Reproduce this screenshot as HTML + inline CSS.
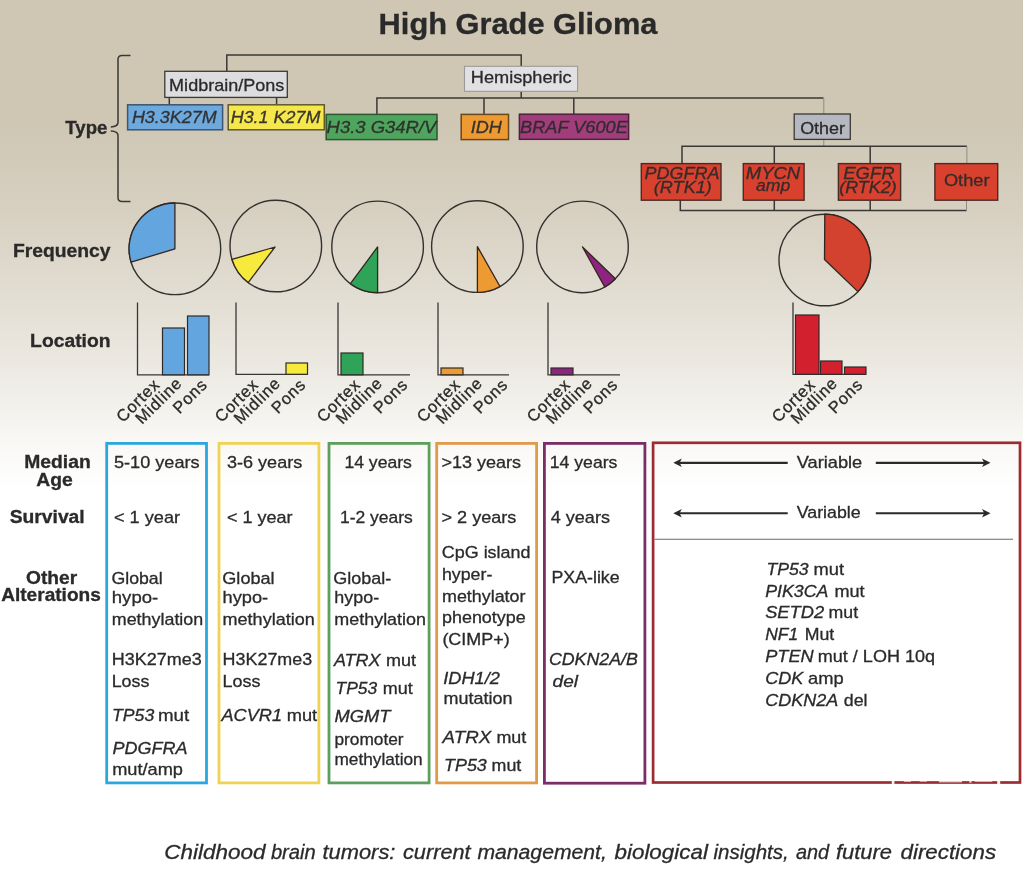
<!DOCTYPE html>
<html lang="en">
<head>
<meta charset="utf-8">
<title>High Grade Glioma</title>
<style>
html,body{margin:0;padding:0;background:#fff;}
body{width:1023px;height:873px;overflow:hidden;}
svg{display:block;}
text{font-family:"Liberation Sans",Arial,Helvetica,sans-serif;fill:#2b2a2a;stroke:#2b2a2a;stroke-width:0.3px;}
.ln{stroke:#3a3836;stroke-width:1.5;fill:none;}
.lt{stroke:#8f8c86;stroke-width:1;fill:none;}
.ax{stroke:#3a3836;stroke-width:1.3;fill:none;}
.pie{stroke:#33312f;stroke-width:1.4;fill:none;}
.rot{font-size:16.5px;letter-spacing:0.8px;}
</style>
</head>
<body>
<svg width="1023" height="873" viewBox="0 0 1023 873">
<defs>
<linearGradient id="bg" x1="0" y1="0" x2="0" y2="1">
<stop offset="0" stop-color="#cfc7b4"/>
<stop offset="0.14" stop-color="#cfc7b4"/>
<stop offset="0.24" stop-color="#d7d0c1"/>
<stop offset="0.32" stop-color="#e0dbcf"/>
<stop offset="0.42" stop-color="#ece9e2"/>
<stop offset="0.50" stop-color="#f8f7f4"/>
<stop offset="0.56" stop-color="#ffffff"/>
<stop offset="1" stop-color="#ffffff"/>
</linearGradient>
<linearGradient id="bx" x1="0" y1="0" x2="0" y2="1">
<stop offset="0" stop-color="#f3f2ef"/>
<stop offset="0.2" stop-color="#ffffff"/>
<stop offset="1" stop-color="#ffffff"/>
</linearGradient>
</defs>
<rect x="0" y="0" width="1023" height="873" fill="url(#bg)"/>

<text x="378.6" y="34.4" font-size="29.5" textLength="278.8" lengthAdjust="spacingAndGlyphs" font-weight="bold">High Grade Glioma</text>
<path class="ln" d="M130.5 55.5 H122 Q118 55.5 118 59.5 V122.3 Q118 126.7 110.8 126.9 M110.8 131 Q118 131.2 118 135.6 V197.5 Q118 201.5 122 201.5 H130.5" stroke-width="1.4"/>
<path class="ln" d="M226.8 71 V55 H521.2 V66.3 M521.2 91.3 V98 M376.9 114.4 V98 H823.5 M484 98 V114.4 M573.8 98 V114.4 M169.3 97.4 V104.8 M276.6 97.4 V104.8"/>
<path class="lt" d="M823.8 98 V114 M823.8 139.4 V146"/>
<path class="ln" d="M682 163.6 V146.2 H966.9 M774.3 146.2 V163.6 M870.2 146.2 V163.6 M680.3 200.2 V210.4 H966.5 M774.3 200.2 V210.4 M870.2 200.2 V210.4"/>
<path class="lt" d="M966.9 146.2 V163.6 M966.5 200.2 V210.4" stroke="#5a5855"/>
<rect x="164.8" y="71.3" width="122.5" height="26.1" fill="#dddde0" stroke="#3a3836" stroke-width="1.3"/>
<text x="169.1" y="90.8" font-size="17" textLength="115.3" lengthAdjust="spacingAndGlyphs">Midbrain/Pons</text>
<rect x="464.5" y="66.3" width="113.1" height="25.0" fill="#e1e1e4" stroke="#9c9a98" stroke-width="1.1"/>
<text x="470.8" y="83.2" font-size="17" textLength="100.9" lengthAdjust="spacingAndGlyphs">Hemispheric</text>
<rect x="794.2" y="114.0" width="56.1" height="25.4" fill="#b6b8c1" stroke="#3a3836" stroke-width="1.3"/>
<text x="800.2" y="133.5" font-size="17" textLength="44.8" lengthAdjust="spacingAndGlyphs">Other</text>
<rect x="127.6" y="104.8" width="95.0" height="25.0" fill="#6ea9de" stroke="#3d556e" stroke-width="1.5"/>
<text x="131.9" y="122.6" font-size="17" textLength="84.8" lengthAdjust="spacingAndGlyphs" font-style="italic" opacity="0.93">H3.3K27M</text>
<rect x="228.2" y="104.8" width="96.1" height="25.0" fill="#f6e84c" stroke="#5e5a2e" stroke-width="1.5"/>
<text x="230.7" y="122.6" font-size="17" textLength="89.7" lengthAdjust="spacingAndGlyphs" font-style="italic" opacity="0.93">H3.1 K27M</text>
<rect x="326.2" y="114.4" width="110.8" height="25.2" fill="#4fa55e" stroke="#2a5632" stroke-width="1.5"/>
<text x="326.6" y="133.3" font-size="17" textLength="109.6" lengthAdjust="spacingAndGlyphs" font-style="italic" opacity="0.93">H3.3 G34R/V</text>
<rect x="461.2" y="114.4" width="47.3" height="25.2" fill="#ee9a33" stroke="#664820" stroke-width="1.5"/>
<text x="470.7" y="133.3" font-size="17" textLength="31.2" lengthAdjust="spacingAndGlyphs" font-style="italic" opacity="0.93">IDH</text>
<rect x="519.4" y="114.2" width="109.2" height="25.1" fill="#a23d7c" stroke="#4f1f3e" stroke-width="1.5"/>
<text x="520.0" y="133.4" font-size="17" textLength="107.8" lengthAdjust="spacingAndGlyphs" font-style="italic" opacity="0.93">BRAF V600E</text>
<rect x="641.3" y="163.6" width="79.7" height="36.6" fill="#d8412e" stroke="#4a2a25" stroke-width="1.4"/>
<rect x="743.3" y="163.6" width="60.8" height="36.6" fill="#d8412e" stroke="#4a2a25" stroke-width="1.4"/>
<rect x="838.4" y="163.6" width="62.2" height="36.6" fill="#d8412e" stroke="#4a2a25" stroke-width="1.4"/>
<rect x="934.9" y="163.6" width="62.8" height="36.6" fill="#d8412e" stroke="#4a2a25" stroke-width="1.4"/>
<text x="644.6" y="179.0" font-size="16" textLength="74.9" lengthAdjust="spacingAndGlyphs" font-style="italic" opacity="0.93">PDGFRA</text>
<text x="653.8" y="192.8" font-size="16" textLength="58.1" lengthAdjust="spacingAndGlyphs" font-style="italic" opacity="0.93">(RTK1)</text>
<text x="745.8" y="179.0" font-size="16" textLength="54.4" lengthAdjust="spacingAndGlyphs" font-style="italic" opacity="0.93">MYCN</text>
<text x="756.1" y="191.4" font-size="16" textLength="34.2" lengthAdjust="spacingAndGlyphs" font-style="italic" opacity="0.93">amp</text>
<text x="843.3" y="178.6" font-size="16" textLength="51.3" lengthAdjust="spacingAndGlyphs" font-style="italic" opacity="0.93">EGFR</text>
<text x="839.2" y="193.4" font-size="16" textLength="57.5" lengthAdjust="spacingAndGlyphs" font-style="italic" opacity="0.93">(RTK2)</text>
<text x="943.9" y="185.8" font-size="16.5" textLength="45.6" lengthAdjust="spacingAndGlyphs" opacity="0.93">Other</text>
<text x="65.3" y="134.2" font-size="17.5" textLength="42.1" lengthAdjust="spacingAndGlyphs" font-weight="bold">Type</text>
<text x="12.9" y="256.9" font-size="17.5" textLength="97.6" lengthAdjust="spacingAndGlyphs" font-weight="bold">Frequency</text>
<text x="30.1" y="347.1" font-size="17.5" textLength="80.4" lengthAdjust="spacingAndGlyphs" font-weight="bold">Location</text>
<text x="24.2" y="467.5" font-size="17.5" textLength="66.5" lengthAdjust="spacingAndGlyphs" font-weight="bold">Median</text>
<text x="36.2" y="485.5" font-size="17.5" textLength="36.5" lengthAdjust="spacingAndGlyphs" font-weight="bold">Age</text>
<text x="9.7" y="523.0" font-size="17.5" textLength="75.0" lengthAdjust="spacingAndGlyphs" font-weight="bold">Survival</text>
<text x="26.1" y="583.8" font-size="17.5" textLength="51.1" lengthAdjust="spacingAndGlyphs" font-weight="bold">Other</text>
<text x="1.2" y="601.2" font-size="17.5" textLength="99.6" lengthAdjust="spacingAndGlyphs" font-weight="bold">Alterations</text>
<circle class="pie" cx="174.9" cy="248.8" r="45.8"/>
<path d="M174.9 248.8 L131.1 262.2 A45.8 45.8 0 0 1 174.9 203.0 Z" fill="#62a5df" stroke="#33261f" stroke-width="1.3" stroke-linejoin="round"/>
<circle class="pie" cx="275.8" cy="246.0" r="45.8"/>
<path d="M275.0 247.0 L248.2 282.6 A45.8 45.8 0 0 1 232.0 259.4 Z" fill="#f8ea3c" stroke="#33261f" stroke-width="1.3" stroke-linejoin="round"/>
<circle class="pie" cx="377.6" cy="246.9" r="45.8"/>
<path d="M377.6 246.9 L377.6 292.7 A45.8 45.8 0 0 1 350.4 283.7 Z" fill="#2fa458" stroke="#33261f" stroke-width="1.3" stroke-linejoin="round"/>
<circle class="pie" cx="477.4" cy="246.6" r="45.8"/>
<path d="M477.4 246.6 L500.0 286.5 A45.8 45.8 0 0 1 477.4 292.4 Z" fill="#ee9a33" stroke="#33261f" stroke-width="1.3" stroke-linejoin="round"/>
<circle class="pie" cx="582.5" cy="246.9" r="45.8"/>
<path d="M582.5 246.9 L615.4 278.7 A45.8 45.8 0 0 1 604.7 287.0 Z" fill="#8e2480" stroke="#33261f" stroke-width="1.3" stroke-linejoin="round"/>
<circle class="pie" cx="824.8" cy="260.0" r="45.8"/>
<path d="M824.5 259.5 L824.8 214.2 A45.8 45.8 0 0 1 857.9 291.6 Z" fill="#d3412f" stroke="#33261f" stroke-width="1.3" stroke-linejoin="round"/>
<path class="ax" d="M137.5 302.5 V374.8 H209.0"/>
<rect x="162.5" y="328.0" width="22.0" height="46.8" fill="#62a5df" stroke="#2e2c2a" stroke-width="1.2"/>
<rect x="187.5" y="316.0" width="21.5" height="58.8" fill="#62a5df" stroke="#2e2c2a" stroke-width="1.2"/>
<text class="rot" text-anchor="end" transform="translate(160.8 385.6) rotate(-45)">Cortex</text>
<text class="rot" text-anchor="end" transform="translate(183.0 384.2) rotate(-45)">Midline</text>
<text class="rot" text-anchor="end" transform="translate(208.3 385.6) rotate(-45)">Pons</text>
<path class="ax" d="M236.0 302.5 V374.3 H307.5"/>
<rect x="286.0" y="363.0" width="21.5" height="11.3" fill="#f8ea3c" stroke="#2e2c2a" stroke-width="1.2"/>
<text class="rot" text-anchor="end" transform="translate(259.3 385.6) rotate(-45)">Cortex</text>
<text class="rot" text-anchor="end" transform="translate(281.5 384.2) rotate(-45)">Midline</text>
<text class="rot" text-anchor="end" transform="translate(306.8 385.6) rotate(-45)">Pons</text>
<path class="ax" d="M338.0 302.5 V374.8 H410.0"/>
<rect x="341.0" y="353.0" width="22.0" height="21.8" fill="#2fa458" stroke="#2e2c2a" stroke-width="1.2"/>
<text class="rot" text-anchor="end" transform="translate(361.3 385.6) rotate(-45)">Cortex</text>
<text class="rot" text-anchor="end" transform="translate(383.5 384.2) rotate(-45)">Midline</text>
<text class="rot" text-anchor="end" transform="translate(408.8 385.6) rotate(-45)">Pons</text>
<path class="ax" d="M438.0 302.5 V374.8 H509.0"/>
<rect x="441.0" y="368.0" width="22.0" height="6.8" fill="#ee9a33" stroke="#2e2c2a" stroke-width="1.2"/>
<text class="rot" text-anchor="end" transform="translate(461.3 385.6) rotate(-45)">Cortex</text>
<text class="rot" text-anchor="end" transform="translate(483.5 384.2) rotate(-45)">Midline</text>
<text class="rot" text-anchor="end" transform="translate(508.8 385.6) rotate(-45)">Pons</text>
<path class="ax" d="M548.0 302.5 V374.8 H620.0"/>
<rect x="551.0" y="368.0" width="22.0" height="6.8" fill="#8e2480" stroke="#2e2c2a" stroke-width="1.2"/>
<text class="rot" text-anchor="end" transform="translate(571.3 385.6) rotate(-45)">Cortex</text>
<text class="rot" text-anchor="end" transform="translate(593.5 384.2) rotate(-45)">Midline</text>
<text class="rot" text-anchor="end" transform="translate(618.8 385.6) rotate(-45)">Pons</text>
<path class="ax" d="M793.0 302.5 V374.3 H866.0"/>
<rect x="795.5" y="315.0" width="23.5" height="59.3" fill="#d2202f" stroke="#2e2c2a" stroke-width="1.2"/>
<rect x="820.5" y="361.0" width="21.5" height="13.3" fill="#d2202f" stroke="#2e2c2a" stroke-width="1.2"/>
<rect x="844.5" y="367.0" width="21.5" height="7.3" fill="#d2202f" stroke="#2e2c2a" stroke-width="1.2"/>
<text class="rot" text-anchor="end" transform="translate(816.3 385.6) rotate(-45)">Cortex</text>
<text class="rot" text-anchor="end" transform="translate(838.5 384.2) rotate(-45)">Midline</text>
<text class="rot" text-anchor="end" transform="translate(863.8 385.6) rotate(-45)">Pons</text>
<rect x="106.7" y="443.4" width="99.8" height="339.5" fill="none" stroke="#2aa7df" stroke-width="2.8"/>
<rect x="219.0" y="443.4" width="99.9" height="339.5" fill="none" stroke="#efd252" stroke-width="2.8"/>
<rect x="329.0" y="443.4" width="100.1" height="339.5" fill="none" stroke="#5d9f5c" stroke-width="2.8"/>
<rect x="436.7" y="443.4" width="99.9" height="339.5" fill="none" stroke="#e09a48" stroke-width="2.8"/>
<rect x="544.4" y="443.4" width="100.5" height="339.8" fill="none" stroke="#7a2e65" stroke-width="2.8"/>
<rect x="653.1" y="442.8" width="366.9" height="339.7" fill="none" stroke="#9c2c31" stroke-width="2.7"/>
<text x="114.0" y="467.5" font-size="17" textLength="85.6" lengthAdjust="spacingAndGlyphs">5-10 years</text>
<text x="114.0" y="523.2" font-size="17" textLength="66.0" lengthAdjust="spacingAndGlyphs">&lt; 1 year</text>
<text x="111.5" y="583.8" font-size="17" textLength="51.1" lengthAdjust="spacingAndGlyphs">Global</text>
<text x="111.8" y="603.1" font-size="17" textLength="46.4" lengthAdjust="spacingAndGlyphs">hypo-</text>
<text x="111.8" y="625.0" font-size="17" textLength="91.4" lengthAdjust="spacingAndGlyphs">methylation</text>
<text x="111.7" y="665.4" font-size="17" textLength="90.0" lengthAdjust="spacingAndGlyphs">H3K27me3</text>
<text x="111.7" y="687.3" font-size="17" textLength="37.7" lengthAdjust="spacingAndGlyphs">Loss</text>
<text x="112.1" y="720.6" font-size="17" textLength="42.1" lengthAdjust="spacingAndGlyphs" font-style="italic">TP53</text>
<text x="158.0" y="720.6" font-size="17" textLength="31.2" lengthAdjust="spacingAndGlyphs">mut</text>
<text x="112.6" y="753.6" font-size="17" textLength="75.0" lengthAdjust="spacingAndGlyphs" font-style="italic">PDGFRA</text>
<text x="112.2" y="774.7" font-size="17" textLength="70.8" lengthAdjust="spacingAndGlyphs">mut/amp</text>
<text x="227.0" y="467.6" font-size="17" textLength="75.2" lengthAdjust="spacingAndGlyphs">3-6 years</text>
<text x="227.0" y="523.3" font-size="17" textLength="65.6" lengthAdjust="spacingAndGlyphs">&lt; 1 year</text>
<text x="222.3" y="583.5" font-size="17" textLength="52.3" lengthAdjust="spacingAndGlyphs">Global</text>
<text x="222.6" y="603.4" font-size="17" textLength="45.6" lengthAdjust="spacingAndGlyphs">hypo-</text>
<text x="222.6" y="625.3" font-size="17" textLength="92.1" lengthAdjust="spacingAndGlyphs">methylation</text>
<text x="222.6" y="665.2" font-size="17" textLength="89.6" lengthAdjust="spacingAndGlyphs">H3K27me3</text>
<text x="222.6" y="687.0" font-size="17" textLength="37.9" lengthAdjust="spacingAndGlyphs">Loss</text>
<text x="221.4" y="721.0" font-size="17" textLength="60.6" lengthAdjust="spacingAndGlyphs" font-style="italic">ACVR1</text>
<text x="286.7" y="721.0" font-size="17" textLength="30.4" lengthAdjust="spacingAndGlyphs">mut</text>
<text x="344.4" y="467.6" font-size="17" textLength="67.5" lengthAdjust="spacingAndGlyphs">14 years</text>
<text x="340.0" y="523.3" font-size="17" textLength="72.8" lengthAdjust="spacingAndGlyphs">1-2 years</text>
<text x="333.2" y="583.5" font-size="17" textLength="58.1" lengthAdjust="spacingAndGlyphs">Global-</text>
<text x="334.3" y="603.4" font-size="17" textLength="44.8" lengthAdjust="spacingAndGlyphs">hypo-</text>
<text x="334.3" y="625.1" font-size="17" textLength="91.7" lengthAdjust="spacingAndGlyphs">methylation</text>
<text x="333.9" y="666.1" font-size="17" textLength="46.7" lengthAdjust="spacingAndGlyphs" font-style="italic">ATRX</text>
<text x="386.1" y="666.1" font-size="17" textLength="30.0" lengthAdjust="spacingAndGlyphs">mut</text>
<text x="335.6" y="693.8" font-size="17" textLength="41.5" lengthAdjust="spacingAndGlyphs" font-style="italic">TP53</text>
<text x="382.7" y="693.8" font-size="17" textLength="30.0" lengthAdjust="spacingAndGlyphs">mut</text>
<text x="334.4" y="721.6" font-size="17" textLength="56.0" lengthAdjust="spacingAndGlyphs" font-style="italic">MGMT</text>
<text x="334.4" y="744.5" font-size="17" textLength="69.2" lengthAdjust="spacingAndGlyphs">promoter</text>
<text x="334.4" y="765.4" font-size="17" textLength="88.3" lengthAdjust="spacingAndGlyphs">methylation</text>
<text x="441.5" y="467.6" font-size="17" textLength="79.6" lengthAdjust="spacingAndGlyphs">&gt;13 years</text>
<text x="441.5" y="523.3" font-size="17" textLength="74.9" lengthAdjust="spacingAndGlyphs">&gt; 2 years</text>
<text x="441.8" y="558.1" font-size="17" textLength="88.7" lengthAdjust="spacingAndGlyphs">CpG island</text>
<text x="442.0" y="579.7" font-size="17" textLength="50.3" lengthAdjust="spacingAndGlyphs">hyper-</text>
<text x="442.0" y="602.1" font-size="17" textLength="83.5" lengthAdjust="spacingAndGlyphs">methylator</text>
<text x="442.0" y="623.2" font-size="17" textLength="83.7" lengthAdjust="spacingAndGlyphs">phenotype</text>
<text x="442.4" y="645.0" font-size="17" textLength="67.3" lengthAdjust="spacingAndGlyphs">(CIMP+)</text>
<text x="443.3" y="684.1" font-size="17" textLength="56.6" lengthAdjust="spacingAndGlyphs" font-style="italic">IDH1/2</text>
<text x="443.5" y="703.5" font-size="17" textLength="68.9" lengthAdjust="spacingAndGlyphs">mutation</text>
<text x="442.6" y="743.1" font-size="17" textLength="48.6" lengthAdjust="spacingAndGlyphs" font-style="italic">ATRX</text>
<text x="496.4" y="743.1" font-size="17" textLength="29.8" lengthAdjust="spacingAndGlyphs">mut</text>
<text x="444.1" y="771.4" font-size="17" textLength="42.7" lengthAdjust="spacingAndGlyphs" font-style="italic">TP53</text>
<text x="491.6" y="771.4" font-size="17" textLength="29.7" lengthAdjust="spacingAndGlyphs">mut</text>
<text x="549.8" y="467.9" font-size="17" textLength="67.6" lengthAdjust="spacingAndGlyphs">14 years</text>
<text x="550.8" y="523.4" font-size="17" textLength="59.1" lengthAdjust="spacingAndGlyphs">4 years</text>
<text x="551.5" y="583.0" font-size="17" textLength="68.1" lengthAdjust="spacingAndGlyphs">PXA-like</text>
<text x="548.9" y="665.2" font-size="17" textLength="89.0" lengthAdjust="spacingAndGlyphs" font-style="italic">CDKN2A/B</text>
<text x="552.6" y="686.8" font-size="17" textLength="25.4" lengthAdjust="spacingAndGlyphs" font-style="italic">del</text>
<path d="M678.3 462.8 H787.7" stroke="#2b2a2a" stroke-width="2.3" fill="none"/>
<path d="M673.3 462.8 L681.8 458.5 L679.6 462.8 L681.8 467.1 Z" fill="#2b2a2a"/>
<path d="M875.8 462.8 H985.5" stroke="#2b2a2a" stroke-width="2.3" fill="none"/>
<path d="M990.5 462.8 L982.0 458.5 L984.2 462.8 L982.0 467.1 Z" fill="#2b2a2a"/>
<text x="796.7" y="467.7" font-size="17" textLength="65.6" lengthAdjust="spacingAndGlyphs">Variable</text>
<path d="M678.3 513.2 H787.7" stroke="#2b2a2a" stroke-width="1.9" fill="none"/>
<path d="M673.3 513.2 L681.8 508.9 L679.6 513.2 L681.8 517.5 Z" fill="#2b2a2a"/>
<path d="M875.8 513.2 H985.5" stroke="#2b2a2a" stroke-width="1.9" fill="none"/>
<path d="M990.5 513.2 L982.0 508.9 L984.2 513.2 L982.0 517.5 Z" fill="#2b2a2a"/>
<text x="796.7" y="517.7" font-size="17" textLength="64.0" lengthAdjust="spacingAndGlyphs">Variable</text>
<path d="M654.5 539.3 H1013" stroke="#6b6967" stroke-width="1.1" fill="none"/>
<text x="766.4" y="575.4" font-size="17" textLength="42.1" lengthAdjust="spacingAndGlyphs" font-style="italic">TP53</text>
<text x="813.5" y="575.4" font-size="17" textLength="30.5" lengthAdjust="spacingAndGlyphs">mut</text>
<text x="765.2" y="596.9" font-size="17" textLength="63.2" lengthAdjust="spacingAndGlyphs" font-style="italic">PIK3CA</text>
<text x="834.4" y="596.9" font-size="17" textLength="30.2" lengthAdjust="spacingAndGlyphs">mut</text>
<text x="765.2" y="618.4" font-size="17" textLength="58.9" lengthAdjust="spacingAndGlyphs" font-style="italic">SETD2</text>
<text x="828.6" y="618.4" font-size="17" textLength="29.5" lengthAdjust="spacingAndGlyphs">mut</text>
<text x="765.2" y="640.3" font-size="17" textLength="32.9" lengthAdjust="spacingAndGlyphs" font-style="italic">NF1</text>
<text x="804.7" y="640.3" font-size="17" textLength="29.5" lengthAdjust="spacingAndGlyphs">Mut</text>
<text x="765.2" y="661.8" font-size="17" textLength="48.5" lengthAdjust="spacingAndGlyphs" font-style="italic">PTEN</text>
<text x="817.8" y="661.8" font-size="17" textLength="117.2" lengthAdjust="spacingAndGlyphs">mut / LOH 10q</text>
<text x="765.2" y="683.9" font-size="17" textLength="38.2" lengthAdjust="spacingAndGlyphs" font-style="italic">CDK</text>
<text x="808.1" y="683.9" font-size="17" textLength="35.6" lengthAdjust="spacingAndGlyphs">amp</text>
<text x="765.2" y="706.0" font-size="17" textLength="73.0" lengthAdjust="spacingAndGlyphs" font-style="italic">CDKN2A</text>
<text x="843.8" y="706.0" font-size="17" textLength="23.7" lengthAdjust="spacingAndGlyphs">del</text>
<rect x="891.8" y="780.6" width="2.6" height="3.4" fill="#ffffff" opacity="0.95"/>
<rect x="903.8" y="780.6" width="7.2" height="1.4" fill="#ffffff" opacity="0.6"/>
<rect x="919.7" y="780.6" width="7.3" height="1.4" fill="#ffffff" opacity="0.5"/>
<rect x="938.9" y="780.6" width="23.1" height="1.8" fill="#ffffff" opacity="0.75"/>
<rect x="969.2" y="780.6" width="2.4" height="2.2" fill="#ffffff" opacity="0.7"/>
<rect x="974.8" y="780.6" width="17.5" height="1.4" fill="#ffffff" opacity="0.6"/>
<rect x="997.2" y="780.6" width="3.0" height="3.4" fill="#ffffff" opacity="0.95"/>
<text x="164.2" y="859.2" font-size="20.5" textLength="101.3" lengthAdjust="spacingAndGlyphs" font-style="italic" fill="#050505" stroke="#050505" stroke-width="0.6">Childhood</text>
<text x="270.9" y="859.2" font-size="20.5" textLength="44.9" lengthAdjust="spacingAndGlyphs" font-style="italic" fill="#050505" stroke="#050505" stroke-width="0.6">brain</text>
<text x="322.5" y="859.2" font-size="20.5" textLength="72.9" lengthAdjust="spacingAndGlyphs" font-style="italic" fill="#050505" stroke="#050505" stroke-width="0.6">tumors:</text>
<text x="403.0" y="859.2" font-size="20.5" textLength="67.6" lengthAdjust="spacingAndGlyphs" font-style="italic" fill="#050505" stroke="#050505" stroke-width="0.6">current</text>
<text x="477.4" y="859.2" font-size="20.5" textLength="129.5" lengthAdjust="spacingAndGlyphs" font-style="italic" fill="#050505" stroke="#050505" stroke-width="0.6">management,</text>
<text x="614.5" y="859.2" font-size="20.5" textLength="93.4" lengthAdjust="spacingAndGlyphs" font-style="italic" fill="#050505" stroke="#050505" stroke-width="0.6">biological</text>
<text x="713.4" y="859.2" font-size="20.5" textLength="75.4" lengthAdjust="spacingAndGlyphs" font-style="italic" fill="#050505" stroke="#050505" stroke-width="0.6">insights,</text>
<text x="796.0" y="859.2" font-size="20.5" textLength="33.2" lengthAdjust="spacingAndGlyphs" font-style="italic" fill="#050505" stroke="#050505" stroke-width="0.6">and</text>
<text x="836.0" y="859.2" font-size="20.5" textLength="56.0" lengthAdjust="spacingAndGlyphs" font-style="italic" fill="#050505" stroke="#050505" stroke-width="0.6">future</text>
<text x="900.5" y="859.2" font-size="20.5" textLength="95.6" lengthAdjust="spacingAndGlyphs" font-style="italic" fill="#050505" stroke="#050505" stroke-width="0.6">directions</text>
</svg>
</body>
</html>
